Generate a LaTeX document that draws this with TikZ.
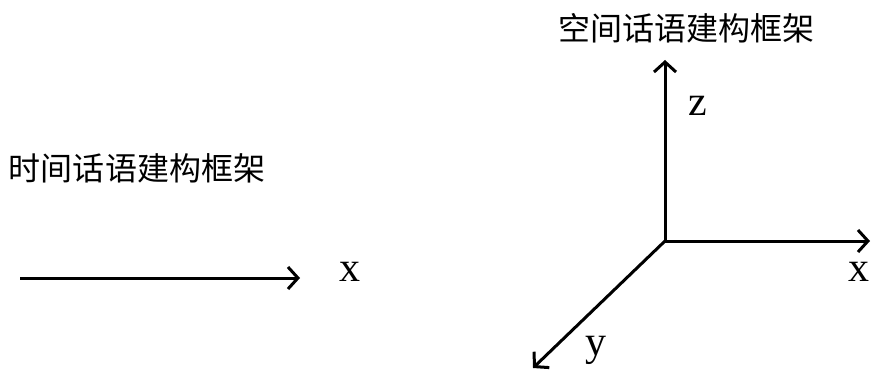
\documentclass[tikz,border=0pt]{standalone}
\usepackage{fontspec}
\setmainfont{Liberation Serif}
\newfontfamily\cjk{Noto Sans CJK SC}[Scale=1]
\usetikzlibrary{arrows.meta}
\begin{document}
\begin{tikzpicture}[x=1pt,y=-1pt,
  axis/.style={line width=3pt,-{Straight Barb[length=10pt,width=22pt,line width=3pt]}},
  title/.style={font=\cjk\fontsize{32}{34}\selectfont,inner sep=0pt},
  lbl/.style={font=\fontsize{42}{44}\selectfont,inner sep=0pt}]
\useasboundingbox (0,0) rectangle (874,379);
% left
\node[title] (t1) at (137,168) {时间话语建构框架};
\coordinate (a0) at (20,278);
\coordinate (a1) at (300,278);
\draw[axis] (a0) -- (a1);
\node[lbl] (x1) at (350,272) {x};
% right
\node[title] (t2) at (686,28) {空间话语建构框架};
\coordinate (o) at (665,241);
\coordinate (zt) at (665,60);
\coordinate (xt) at (870,241);
\coordinate (yt) at (533,368);
\draw[axis] (o) -- (zt);
\draw[axis] (o) -- (xt);
\draw[axis] (o) -- (yt);
\node[lbl] (z) at (698,106) {z};
\node[lbl] (x2) at (859,272) {x};
\node[lbl] (y) at (596,350) {y};
\end{tikzpicture}
\end{document}
